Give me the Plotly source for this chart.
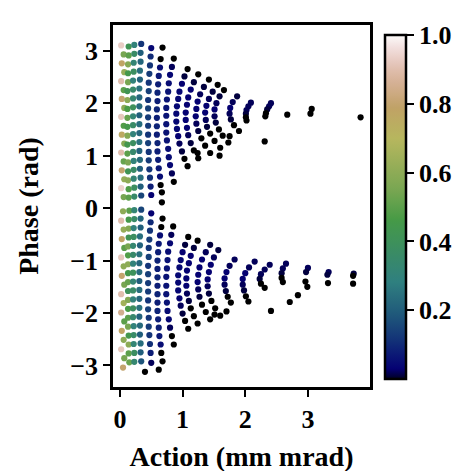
import numpy as np
import plotly.graph_objects as go

# upper island (phase > 0), one block per arc
up_action = [
    0.02,0.06,0.03,0.07,0.02,0.06,0.03,0.07,0.02,0.06,0.03,0.07,0.02,0.06,0.03,0.07,0.02,0.06,
    0.14,0.14,0.13,0.13,0.13,0.12,0.12,0.12,0.12,0.12,0.12,0.12,0.12,0.13,0.13,0.13,0.14,0.14,
    0.23,0.23,0.22,0.22,0.21,0.21,0.21,0.21,0.21,0.21,0.21,0.21,0.21,0.22,0.22,0.22,0.23,0.23,
    0.34,0.33,0.33,0.32,0.32,0.31,0.31,0.31,0.31,0.31,0.31,0.31,0.31,0.32,0.32,0.33,0.33,0.34,
    0.50,0.49,0.48,0.47,0.46,0.46,0.45,0.45,0.45,0.45,0.45,0.45,0.46,0.46,0.47,0.48,0.49,0.50,
    0.68,0.65,0.64,0.62,0.61,0.60,0.60,0.59,0.59,0.59,0.59,0.60,0.60,0.61,0.62,0.64,0.65,0.67,
    0.86,0.83,0.80,0.78,0.77,0.75,0.74,0.74,0.74,0.74,0.75,0.77,0.78,0.80,0.83,0.86,
    1.08,1.03,0.99,0.95,0.93,0.91,0.90,0.90,0.91,0.93,0.95,0.99,1.03,1.08,
    1.25,1.18,1.13,1.09,1.07,1.05,1.05,1.07,1.09,1.13,1.18,1.25,
    1.42,1.34,1.28,1.24,1.22,1.21,1.22,1.25,1.30,1.36,1.44,
    1.56,1.48,1.42,1.38,1.36,1.37,1.39,1.44,1.51,1.60,
    1.66,1.59,1.54,1.51,1.51,1.53,1.58,1.64,1.73,
    1.87,1.80,1.76,1.75,1.77,1.82,1.90,
    2.09,2.05,2.02,2.01,2.01,2.02,
    2.41,2.38,2.35,2.33,2.32,
    2.67,3.06,3.04,3.84,1.59,2.31,1.75,1.24,0.67,
]
up_phase = [
    3.10,2.93,2.76,2.59,2.42,2.25,2.08,1.91,1.74,1.57,1.40,1.23,1.06,0.89,0.72,0.55,0.38,0.21,
    3.08,2.91,2.74,2.57,2.40,2.23,2.06,1.89,1.72,1.55,1.38,1.21,1.04,0.87,0.70,0.53,0.36,0.20,
    3.11,2.94,2.77,2.60,2.43,2.26,2.09,1.92,1.75,1.58,1.41,1.24,1.07,0.90,0.73,0.56,0.39,0.22,
    3.13,2.96,2.79,2.62,2.45,2.28,2.11,1.94,1.77,1.60,1.43,1.26,1.09,0.92,0.75,0.58,0.41,0.24,
    3.05,2.89,2.72,2.56,2.39,2.23,2.06,1.90,1.73,1.57,1.40,1.24,1.07,0.91,0.74,0.58,0.41,0.25,
    3.06,2.84,2.68,2.52,2.36,2.20,2.04,1.88,1.72,1.56,1.40,1.24,1.08,0.92,0.76,0.60,0.44,0.30,
    2.85,2.69,2.54,2.38,2.22,2.07,1.91,1.76,1.60,1.44,1.29,1.13,0.97,0.82,0.66,0.50,
    2.65,2.51,2.37,2.22,2.08,1.94,1.80,1.65,1.51,1.37,1.23,1.08,0.94,0.80,
    2.55,2.40,2.26,2.11,1.97,1.82,1.68,1.53,1.39,1.24,1.10,0.95,
    2.45,2.31,2.17,2.03,1.89,1.75,1.61,1.47,1.33,1.19,1.05,
    2.35,2.22,2.08,1.95,1.82,1.68,1.55,1.42,1.28,1.15,
    2.25,2.13,2.00,1.88,1.75,1.63,1.50,1.38,1.25,
    2.13,2.02,1.91,1.80,1.69,1.58,1.47,
    2.01,1.94,1.87,1.80,1.73,1.67,
    2.00,1.94,1.88,1.81,1.75,
    1.78,1.89,1.80,1.73,1.00,1.27,1.37,1.05,0.11,
]
up_value = [
    0.93,0.55,0.78,0.62,0.90,0.50,0.80,0.60,0.92,0.48,0.76,0.58,0.90,0.52,0.80,0.62,0.94,0.55,
    0.42,0.50,0.58,0.45,0.55,0.42,0.60,0.47,0.52,0.45,0.58,0.44,0.50,0.56,0.42,0.60,0.48,0.50,
    0.30,0.36,0.32,0.38,0.30,0.35,0.33,0.40,0.32,0.36,0.30,0.38,0.34,0.30,0.36,0.32,0.38,0.35,
    0.12,0.20,0.22,0.24,0.21,0.25,0.22,0.23,0.20,0.24,0.22,0.25,0.21,0.23,0.20,0.24,0.20,0.15,
    0.04,0.10,0.12,0.13,0.12,0.14,0.12,0.14,0.13,0.13,0.12,0.14,0.12,0.13,0.12,0.11,0.08,0.03,
    0.00,0.00,0.05,0.07,0.08,0.09,0.08,0.09,0.08,0.09,0.08,0.09,0.08,0.08,0.07,0.05,0.00,0.00,
    0.00,0.02,0.04,0.05,0.06,0.06,0.06,0.06,0.06,0.06,0.06,0.05,0.05,0.04,0.02,0.00,
    0.00,0.01,0.03,0.04,0.04,0.04,0.04,0.04,0.04,0.03,0.02,0.01,0.00,0.00,
    0.00,0.01,0.03,0.03,0.03,0.03,0.03,0.03,0.02,0.01,0.00,0.00,
    0.00,0.01,0.02,0.03,0.03,0.03,0.02,0.01,0.00,0.00,0.00,
    0.00,0.01,0.02,0.03,0.03,0.02,0.01,0.00,0.00,0.00,
    0.00,0.01,0.02,0.03,0.02,0.01,0.00,0.00,0.00,
    0.01,0.02,0.03,0.02,0.01,0.00,0.00,
    0.02,0.02,0.02,0.01,0.00,0.00,
    0.02,0.02,0.01,0.00,0.00,
    0.00,0.00,0.00,0.00,0.00,0.00,0.00,0.00,0.00,
]

# lower island (phase < 0)
low_action = [
    0.05,0.02,0.06,0.03,0.07,0.02,0.06,0.03,0.07,0.02,0.06,0.02,0.07,0.03,0.06,0.02,0.07,0.05,
    0.15,0.14,0.14,0.14,0.13,0.13,0.13,0.13,0.13,0.13,0.13,0.13,0.13,0.13,0.14,0.14,0.14,0.15,
    0.23,0.23,0.22,0.22,0.21,0.21,0.21,0.21,0.21,0.21,0.21,0.21,0.21,0.22,0.22,0.22,0.23,0.23,
    0.34,0.33,0.33,0.32,0.32,0.31,0.31,0.31,0.31,0.31,0.31,0.31,0.31,0.32,0.32,0.33,0.33,0.34,
    0.50,0.49,0.48,0.47,0.46,0.46,0.45,0.45,0.45,0.45,0.45,0.45,0.46,0.46,0.47,0.48,0.49,0.50,
    0.68,0.66,0.64,0.62,0.61,0.60,0.60,0.60,0.60,0.60,0.60,0.60,0.61,0.62,0.63,0.65,0.66,0.68,
    0.85,0.82,0.80,0.77,0.76,0.75,0.74,0.74,0.74,0.75,0.76,0.78,0.80,0.83,0.86,
    1.09,1.04,1.00,0.97,0.95,0.93,0.93,0.93,0.95,0.97,1.00,1.04,1.09,
    1.24,1.18,1.13,1.10,1.07,1.06,1.06,1.07,1.10,1.13,1.18,1.24,
    1.44,1.37,1.31,1.27,1.25,1.24,1.25,1.27,1.31,1.37,1.44,
    1.57,1.50,1.45,1.42,1.40,1.40,1.42,1.46,1.52,1.60,
    1.83,1.75,1.70,1.67,1.67,1.69,1.72,1.77,
    2.15,2.06,2.00,1.96,1.96,1.98,2.01,2.05,
    2.39,2.31,2.25,2.23,2.25,2.31,
    2.65,2.60,2.58,2.58,2.60,
    3.00,2.97,2.96,2.99,
    3.33,3.31,3.32,3.73,3.72,3.72,2.41,2.71,2.84,1.51,1.70,0.40,0.62,
]
low_phase = [
    -0.06,-0.24,-0.41,-0.59,-0.76,-0.94,-1.11,-1.29,-1.46,-1.64,-1.81,-1.99,-2.16,-2.34,-2.51,-2.69,-2.86,-3.04,
    -0.05,-0.22,-0.39,-0.56,-0.73,-0.90,-1.07,-1.24,-1.41,-1.58,-1.75,-1.92,-2.09,-2.26,-2.43,-2.60,-2.77,-2.94,
    -0.04,-0.21,-0.38,-0.55,-0.72,-0.89,-1.06,-1.23,-1.40,-1.57,-1.74,-1.91,-2.08,-2.25,-2.42,-2.59,-2.76,-2.93,
    -0.03,-0.20,-0.37,-0.54,-0.71,-0.88,-1.05,-1.22,-1.39,-1.56,-1.73,-1.90,-2.07,-2.24,-2.41,-2.58,-2.75,-2.92,
    -0.10,-0.27,-0.43,-0.60,-0.76,-0.93,-1.10,-1.26,-1.43,-1.59,-1.76,-1.93,-2.09,-2.26,-2.42,-2.59,-2.76,-2.95,
    -0.20,-0.36,-0.52,-0.68,-0.84,-1.00,-1.16,-1.32,-1.48,-1.64,-1.80,-1.96,-2.12,-2.28,-2.44,-2.60,-2.76,-2.92,
    -0.35,-0.51,-0.67,-0.83,-0.99,-1.15,-1.31,-1.48,-1.64,-1.80,-1.96,-2.12,-2.28,-2.44,-2.60,
    -0.55,-0.70,-0.84,-0.99,-1.13,-1.28,-1.42,-1.57,-1.72,-1.86,-2.01,-2.15,-2.30,
    -0.62,-0.76,-0.91,-1.05,-1.19,-1.34,-1.48,-1.63,-1.77,-1.91,-2.06,-2.20,
    -0.70,-0.84,-0.98,-1.13,-1.27,-1.41,-1.55,-1.69,-1.84,-1.98,-2.12,
    -0.80,-0.94,-1.08,-1.22,-1.36,-1.49,-1.63,-1.77,-1.91,-2.05,
    -0.98,-1.10,-1.22,-1.34,-1.46,-1.58,-1.69,-1.80,
    -1.02,-1.13,-1.24,-1.35,-1.46,-1.57,-1.68,-1.78,
    -1.08,-1.17,-1.26,-1.35,-1.44,-1.52,
    -1.06,-1.15,-1.24,-1.33,-1.41,
    -1.14,-1.22,-1.40,-1.50,
    -1.22,-1.27,-1.43,-1.25,-1.29,-1.44,-1.96,-1.79,-1.66,-2.03,-1.97,-3.12,-3.08,
]
low_value = [
    0.60,0.90,0.62,0.78,0.50,0.92,0.60,0.80,0.55,0.90,0.65,0.85,0.50,0.78,0.60,0.92,0.55,0.80,
    0.50,0.45,0.58,0.42,0.55,0.48,0.60,0.45,0.52,0.40,0.58,0.47,0.50,0.55,0.44,0.60,0.50,0.52,
    0.32,0.36,0.30,0.38,0.33,0.35,0.30,0.40,0.32,0.36,0.30,0.38,0.34,0.30,0.36,0.32,0.38,0.33,
    0.15,0.22,0.20,0.24,0.21,0.25,0.22,0.23,0.20,0.24,0.22,0.25,0.21,0.23,0.20,0.24,0.20,0.18,
    0.03,0.10,0.12,0.13,0.12,0.14,0.12,0.14,0.13,0.13,0.12,0.14,0.12,0.13,0.12,0.11,0.08,0.02,
    0.00,0.00,0.05,0.07,0.08,0.09,0.08,0.09,0.08,0.09,0.08,0.09,0.08,0.08,0.07,0.05,0.00,0.00,
    0.00,0.02,0.04,0.05,0.06,0.06,0.06,0.06,0.06,0.06,0.05,0.04,0.02,0.00,0.00,
    0.00,0.01,0.03,0.04,0.04,0.04,0.04,0.04,0.03,0.02,0.01,0.00,0.00,
    0.00,0.01,0.03,0.03,0.03,0.03,0.03,0.02,0.01,0.00,0.00,0.00,
    0.01,0.02,0.03,0.03,0.03,0.03,0.02,0.01,0.00,0.00,0.00,
    0.01,0.02,0.03,0.03,0.03,0.02,0.01,0.00,0.00,0.00,
    0.02,0.02,0.03,0.03,0.02,0.01,0.00,0.00,
    0.02,0.02,0.03,0.03,0.02,0.01,0.00,0.00,
    0.02,0.02,0.02,0.01,0.00,0.00,
    0.02,0.02,0.01,0.00,0.00,
    0.02,0.01,0.00,0.00,
    0.02,0.01,0.00,0.01,0.00,0.00,0.00,0.00,0.00,0.00,0.00,0.00,0.00,
]

# matplotlib gist_earth anchors -> plotly colorscale
red_x = [0, 0.2824, 0.4588, 0.5490, 0.6980, 0.7882, 1.0]
red_y = [0, 0.1882, 0.2714, 0.4719, 0.7176, 0.7553, 0.9922]
grn_x = [0, 0.0275, 0.1098, 0.1647, 0.2078, 0.2824, 0.5216, 0.6980, 0.7882, 0.8157,
         0.8667, 0.8980, 0.9412, 0.9569, 0.9647, 0.9961, 1.0]
grn_y = [0, 0, 0.1893, 0.3035, 0.3841, 0.5020, 0.6397, 0.7171, 0.6392, 0.6549,
         0.6991, 0.7430, 0.8275, 0.8635, 0.8816, 0.9733, 0.9843]
blu_x = [0, 0.0039, 0.0078, 0.0275, 0.0314, 0.2824, 0.4667, 0.5451, 0.7843, 0.8941, 1.0]
blu_y = [0, 0.1684, 0.2212, 0.4329, 0.4549, 0.5004, 0.2748, 0.3205, 0.3961, 0.6651, 0.9843]
pos = sorted(set(np.linspace(0, 1, 41).round(4)) | set(red_x) | set(grn_x) | set(blu_x))
earth = []
for p in pos:
    r = np.interp(p, red_x, red_y)*255
    g = np.interp(p, grn_x, grn_y)*255
    b = np.interp(p, blu_x, blu_y)*255
    earth.append([p, 'rgb(%d,%d,%d)' % (r, g, b)])

font = 'Liberation Serif'
fig = go.Figure(go.Scatter(
    x=up_action+low_action, y=up_phase+low_phase, mode='markers',
    marker=dict(size=6.2, color=up_value+low_value, colorscale=earth, cmin=0, cmax=1,
                line=dict(width=0),
                colorbar=dict(x=1.058, xanchor='left', xpad=0, thickness=21,
                              len=364, lenmode='pixels', y=0.497, yanchor='middle',
                              outlinewidth=2.5, outlinecolor='black',
                              tickvals=[0.2, 0.4, 0.6, 0.8, 1.0], ticktext=['0.2', '0.4', '0.6', '0.8', '1.0'],
                              ticks='outside', ticklen=7, tickwidth=2, tickcolor='black',
                              tickfont=dict(family=font, size=26, color='black', weight='bold'))),
    showlegend=False))

axis = dict(showgrid=False, zeroline=False, showline=True, mirror=True, linewidth=2.5, linecolor='black',
            ticks='outside', ticklen=7, tickwidth=2, tickcolor='black',
            tickfont=dict(family=font, size=26, color='black', weight='bold'))
fig.update_xaxes(axis, range=[-0.11, 3.99], tickvals=[0, 1, 2, 3],
                 title=dict(text='Action (mm mrad)', standoff=14,
                            font=dict(family=font, size=28, color='black', weight='bold')))
fig.update_yaxes(axis, range=[-3.41, 3.49], tickvals=[-3, -2, -1, 0, 1, 2, 3],
                 title=dict(text='Phase (rad)', standoff=24,
                            font=dict(family=font, size=28, color='black', weight='bold')))
fig.update_layout(width=462, height=471, autosize=False, plot_bgcolor='white', paper_bgcolor='white',
                  margin=dict(l=105, r=100, t=17, b=92))
fig.write_html('out.html')
